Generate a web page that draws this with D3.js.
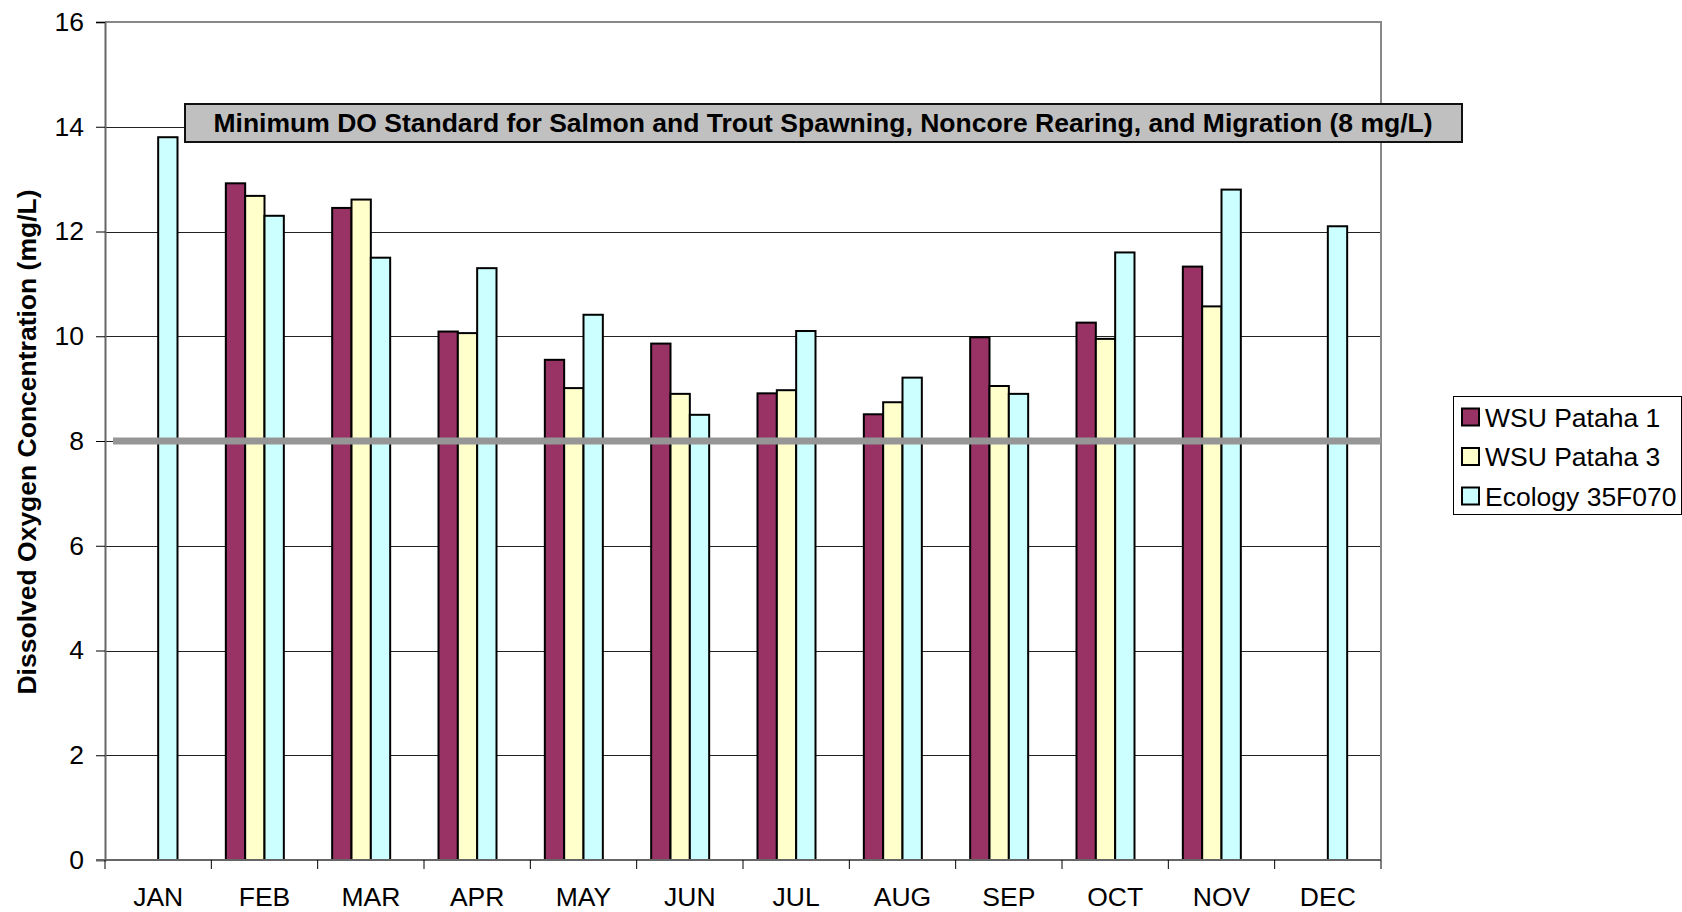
<!DOCTYPE html>
<html>
<head>
<meta charset="utf-8">
<script src="https://cdn.jsdelivr.net/npm/d3@7/dist/d3.min.js"></script>
<style>
  html, body { margin: 0; padding: 0; background: #fff; }
  svg { display: block; font-family: "Liberation Sans", Arial, sans-serif; }
</style>
</head>
<body>
<svg id="chart" width="1682" height="912"></svg>
<script>
var months = ['JAN', 'FEB', 'MAR', 'APR', 'MAY', 'JUN', 'JUL', 'AUG', 'SEP', 'OCT', 'NOV', 'DEC'];
var seriesNames = ['WSU Pataha 1', 'WSU Pataha 3', 'Ecology 35F070'];
var seriesColors = ['#993366', '#FFFFCC', '#CCFFFF'];
var pataha1 = [null, 12.92, 12.45, 10.09, 9.55, 9.86, 8.91, 8.51, 9.98, 10.26, 11.33, null];
var pataha3 = [null, 12.68, 12.61, 10.06, 9.01, 8.90, 8.97, 8.74, 9.05, 9.95, 10.57, null];
var ecology = [13.8, 12.30, 11.50, 11.30, 10.41, 8.50, 10.10, 9.21, 8.90, 11.60, 12.80, 12.10];
var yTicks = [0, 2, 4, 6, 8, 10, 12, 14, 16];
var standardValue = 8;
var standardLabel = 'Minimum DO Standard for Salmon and Trout Spawning, Noncore Rearing, and Migration (8 mg/L)';
var yTitle = 'Dissolved Oxygen Concentration (mg/L)';

var svg = d3.select('#chart');
var plotLeft = 105, plotRight = 1381, plotTop = 22, plotBottom = 860;
var fontSize = 26.5;

var x = d3.scaleBand().domain(months).range([plotLeft, plotRight]).padding(0);
// four slots per month: the fourth one belongs to the standard series, drawn as a line
var slot = d3.scaleBand().domain([0, 1, 2, 3]).range([0, x.bandwidth()]).paddingInner(0).paddingOuter(0.75);
var y = d3.scaleLinear().domain([0, 16]).range([plotBottom, plotTop]);

// gridlines
svg.append('g')
  .selectAll('line')
  .data(yTicks.filter(function (d) { return d > 0 && d < 16; }))
  .join('line')
  .attr('x1', plotLeft).attr('x2', plotRight)
  .attr('y1', function (d) { return Math.round(y(d)) + 0.5; })
  .attr('y2', function (d) { return Math.round(y(d)) + 0.5; })
  .attr('stroke', '#222').attr('stroke-width', 1);

// frame top / right
svg.append('path')
  .attr('d', 'M' + plotLeft + ',' + plotTop + 'H' + plotRight + 'V' + plotBottom)
  .attr('fill', 'none').attr('stroke', '#888').attr('stroke-width', 2);

// bars
var series = [pataha1, pataha3, ecology];
series.forEach(function (vals, si) {
  svg.append('g')
    .selectAll('rect')
    .data(months.map(function (m, i) { return { m: m, v: vals[i] }; }).filter(function (d) { return d.v != null; }))
    .join('rect')
    .attr('x', function (d) { return x(d.m) + slot(si); })
    .attr('y', function (d) { return y(d.v); })
    .attr('width', slot.bandwidth())
    .attr('height', function (d) { return y(0) - y(d.v); })
    .attr('fill', seriesColors[si])
    .attr('stroke', '#000')
    .attr('stroke-width', 2);
});

// standard line
svg.append('line')
  .attr('x1', plotLeft + 8).attr('x2', plotRight)
  .attr('y1', y(standardValue)).attr('y2', y(standardValue))
  .attr('stroke', '#969696').attr('stroke-width', 7);

// y axis
var yAxis = svg.append('g')
  .attr('transform', 'translate(' + plotLeft + ',0)')
  .call(d3.axisLeft(y).tickValues(yTicks).tickSize(9).tickPadding(12));
yAxis.select('.domain').attr('stroke', '#666').attr('stroke-width', 2);
yAxis.selectAll('.tick line').attr('stroke', '#000');
yAxis.selectAll('.tick text').attr('font-size', fontSize).attr('fill', '#000')
  .attr('font-family', '"Liberation Sans", Arial, sans-serif');

// x axis: ticks at month boundaries
var xAxisG = svg.append('g').attr('transform', 'translate(0,' + plotBottom + ')');
xAxisG.append('line').attr('x1', plotLeft - 9).attr('x2', plotRight)
  .attr('stroke', '#666').attr('stroke-width', 2);
xAxisG.selectAll('line.tk')
  .data(months.concat(['end']))
  .join('line')
  .attr('class', 'tk')
  .attr('x1', function (d) { return d === 'end' ? plotRight : x(d); })
  .attr('x2', function (d) { return d === 'end' ? plotRight : x(d); })
  .attr('y1', 0).attr('y2', 9)
  .attr('stroke', '#000');
xAxisG.selectAll('text')
  .data(months)
  .join('text')
  .attr('x', function (d) { return x(d) + x.bandwidth() / 2; })
  .attr('y', 46)
  .attr('text-anchor', 'middle')
  .attr('font-size', fontSize)
  .text(function (d) { return d; });

// y title
svg.append('text')
  .attr('transform', 'translate(36,' + ((plotTop + plotBottom) / 2 + 1) + ') rotate(-90)')
  .attr('text-anchor', 'middle')
  .attr('font-size', fontSize)
  .attr('font-weight', 'bold')
  .text(yTitle);

// standard annotation box
var box = svg.append('g');
box.append('rect')
  .attr('x', 185).attr('y', 104).attr('width', 1277).attr('height', 38)
  .attr('fill', '#C0C0C0').attr('stroke', '#111').attr('stroke-width', 2);
box.append('text')
  .attr('x', 823).attr('y', 132)
  .attr('text-anchor', 'middle')
  .attr('font-size', fontSize)
  .attr('font-weight', 'bold')
  .text(standardLabel);

// legend
var legend = svg.append('g');
legend.append('rect')
  .attr('x', 1453.5).attr('y', 396.5).attr('width', 228).attr('height', 118)
  .attr('fill', '#fff').attr('stroke', '#000').attr('stroke-width', 1);
var items = legend.selectAll('g.item')
  .data(seriesNames)
  .join('g')
  .attr('class', 'item')
  .attr('transform', function (d, i) { return 'translate(1462,' + (417 + i * 39.5) + ')'; });
items.append('rect')
  .attr('x', 0).attr('y', -8.5).attr('width', 17).attr('height', 17)
  .attr('fill', function (d, i) { return seriesColors[i]; })
  .attr('stroke', '#000').attr('stroke-width', 2);
items.append('text')
  .attr('x', 23).attr('y', 9.5)
  .attr('font-size', fontSize)
  .text(function (d) { return d; });
</script>
</body>
</html>
